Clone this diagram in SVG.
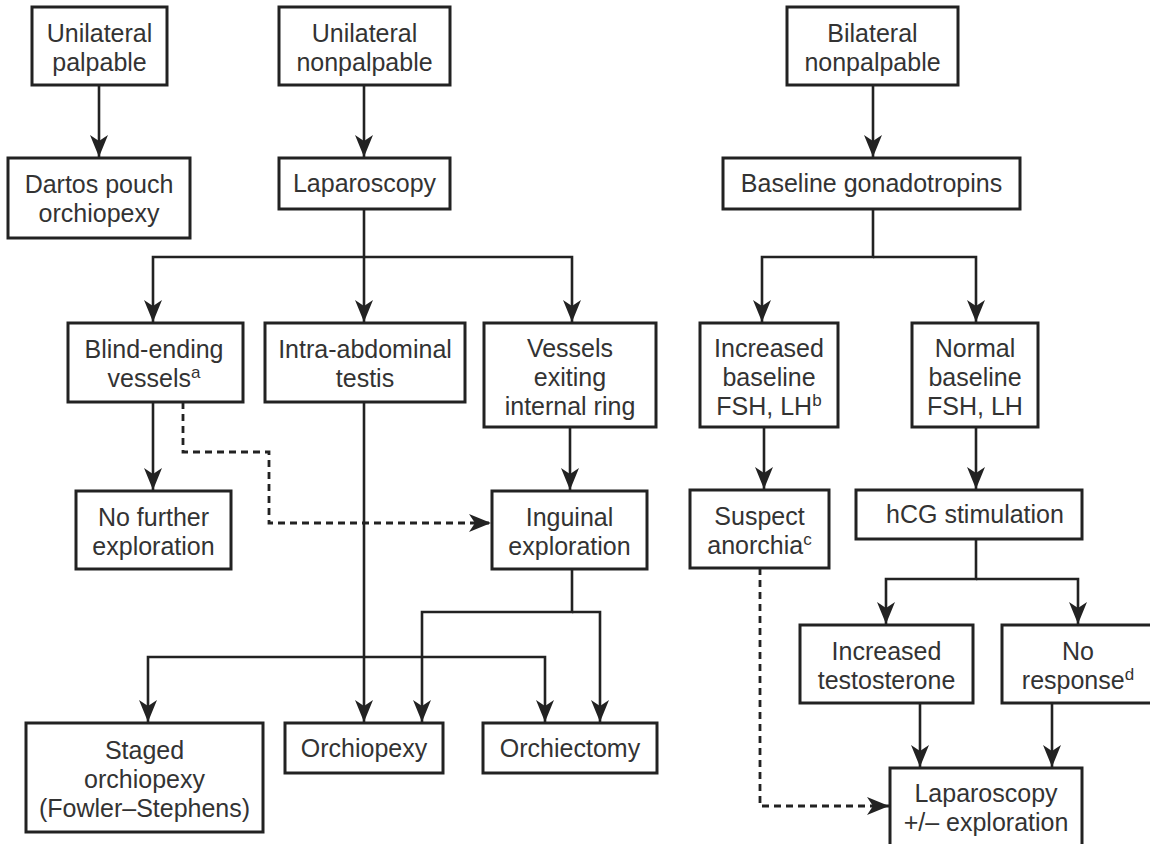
<svg xmlns="http://www.w3.org/2000/svg" width="1150" height="844" viewBox="0 0 1150 844">
<style>
.box{fill:#fff;stroke:#222;stroke-width:3}
.t{font-family:"Liberation Sans",Arial,sans-serif;font-size:25px;fill:#333;text-anchor:middle}
.sup{font-size:17px}
.c{fill:none;stroke:#222;stroke-width:2.6}
.d{fill:none;stroke:#222;stroke-width:2.8;stroke-dasharray:7 5}
</style>
<defs>
<marker id="ah" viewBox="0 0 22 18" refX="22" refY="9" markerWidth="22" markerHeight="18" orient="auto" markerUnits="userSpaceOnUse">
<path d="M22,9 L0,0 L6,9 L0,18 Z" fill="#222"/>
</marker>
</defs>
<rect width="1150" height="844" fill="#fff"/>
<g id="connectors">
<path class="c" d="M99,85 V157" marker-end="url(#ah)"/>
<path class="c" d="M364,85 V157" marker-end="url(#ah)"/>
<path class="c" d="M873,85 V157" marker-end="url(#ah)"/>
<path class="c" d="M364,209 V322"  marker-end="url(#ah)"/>
<path class="c" d="M364,257 H153 V322" marker-end="url(#ah)"/>
<path class="c" d="M364,257 H572 V322" marker-end="url(#ah)"/>
<path class="c" d="M873,209 V257 H762 V322" marker-end="url(#ah)"/>
<path class="c" d="M873,257 H976 V322" marker-end="url(#ah)"/>
<path class="c" d="M153,402 V490" marker-end="url(#ah)"/>
<path class="d" d="M183,402 V452 H269 V523 H491" marker-end="url(#ah)"/>
<path class="c" d="M570,427 V490" marker-end="url(#ah)"/>
<path class="c" d="M364,402 V722" marker-end="url(#ah)"/>
<path class="c" d="M364,657 H148 V722" marker-end="url(#ah)"/>
<path class="c" d="M364,657 H545 V722" marker-end="url(#ah)"/>
<path class="c" d="M572,569 V612 H422 V722" marker-end="url(#ah)"/>
<path class="c" d="M572,612 H600 V722" marker-end="url(#ah)"/>
<path class="c" d="M764,427 V489" marker-end="url(#ah)"/>
<path class="c" d="M976,427 V489" marker-end="url(#ah)"/>
<path class="c" d="M976,539 V579 H886 V624" marker-end="url(#ah)"/>
<path class="c" d="M976,579 H1078 V624" marker-end="url(#ah)"/>
<path class="c" d="M920,703 V767" marker-end="url(#ah)"/>
<path class="c" d="M1052,703 V767" marker-end="url(#ah)"/>
<path class="d" d="M760,568 V806 H889" marker-end="url(#ah)"/>
</g>
<g id="n-up"><rect class="box" x="32" y="7" width="135" height="78"/><text class="t" x="99.5" y="42">Unilateral</text><text class="t" x="99.5" y="71">palpable</text></g>
<g id="n-unp"><rect class="box" x="279" y="7" width="171" height="78"/><text class="t" x="364.5" y="42">Unilateral</text><text class="t" x="364.5" y="71">nonpalpable</text></g>
<g id="n-bnp"><rect class="box" x="787" y="7" width="171" height="78"/><text class="t" x="872.5" y="42">Bilateral</text><text class="t" x="872.5" y="71">nonpalpable</text></g>
<g id="n-dartos"><rect class="box" x="8" y="158" width="182" height="80"/><text class="t" x="99" y="193">Dartos pouch</text><text class="t" x="99" y="222">orchiopexy</text></g>
<g id="n-lap"><rect class="box" x="279" y="158" width="171" height="51"/><text class="t" x="364.5" y="192">Laparoscopy</text></g>
<g id="n-bg"><rect class="box" x="723" y="158" width="297" height="51"/><text class="t" x="871.5" y="192">Baseline gonadotropins</text></g>
<g id="n-blind"><rect class="box" x="68" y="323" width="175" height="79"/><text class="t" x="154" y="358">Blind-ending</text><text class="t" x="154" y="387">vessels<tspan class="sup" dy="-9">a</tspan></text></g>
<g id="n-intra"><rect class="box" x="265" y="323" width="200" height="79"/><text class="t" x="365" y="358">Intra-abdominal</text><text class="t" x="365" y="387">testis</text></g>
<g id="n-vessels"><rect class="box" x="484" y="323" width="172" height="104"/><text class="t" x="570" y="357">Vessels</text><text class="t" x="570" y="386">exiting</text><text class="t" x="570" y="415">internal ring</text></g>
<g id="n-incb"><rect class="box" x="700" y="323" width="138" height="104"/><text class="t" x="769" y="357">Increased</text><text class="t" x="769" y="386">baseline</text><text class="t" x="769" y="415">FSH, LH<tspan class="sup" dy="-9">b</tspan></text></g>
<g id="n-normb"><rect class="box" x="912" y="323" width="126" height="104"/><text class="t" x="975" y="357">Normal</text><text class="t" x="975" y="386">baseline</text><text class="t" x="975" y="415">FSH, LH</text></g>
<g id="n-nofurther"><rect class="box" x="76" y="491" width="155" height="78"/><text class="t" x="153.5" y="526">No further</text><text class="t" x="153.5" y="555">exploration</text></g>
<g id="n-inguinal"><rect class="box" x="492" y="491" width="155" height="78"/><text class="t" x="569.5" y="526">Inguinal</text><text class="t" x="569.5" y="555">exploration</text></g>
<g id="n-suspect"><rect class="box" x="690" y="490" width="139" height="78"/><text class="t" x="759.5" y="525">Suspect</text><text class="t" x="759.5" y="554">anorchia<tspan class="sup" dy="-9">c</tspan></text></g>
<g id="n-hcg"><rect class="box" x="856" y="490" width="226" height="49"/><text class="t" x="975" y="523">hCG stimulation</text></g>
<g id="n-inctest"><rect class="box" x="800" y="625" width="173" height="78"/><text class="t" x="886.5" y="660">Increased</text><text class="t" x="886.5" y="689">testosterone</text></g>
<g id="n-noresp"><rect class="box" x="1002" y="625" width="160" height="78"/><text class="t" x="1078" y="660">No</text><text class="t" x="1078" y="689">response<tspan class="sup" dy="-9">d</tspan></text></g>
<g id="n-staged"><rect class="box" x="26" y="723" width="237" height="109"/><text class="t" x="144.5" y="759">Staged</text><text class="t" x="144.5" y="788">orchiopexy</text><text class="t" x="144.5" y="817">(Fowler–Stephens)</text></g>
<g id="n-orchiopexy"><rect class="box" x="285" y="723" width="158" height="50"/><text class="t" x="364" y="757">Orchiopexy</text></g>
<g id="n-orchiectomy"><rect class="box" x="483" y="723" width="174" height="50"/><text class="t" x="570" y="757">Orchiectomy</text></g>
<g id="n-lapx"><rect class="box" x="890" y="768" width="192" height="82"/><text class="t" x="986" y="802">Laparoscopy</text><text class="t" x="986" y="831">+/– exploration</text></g>
</svg>
